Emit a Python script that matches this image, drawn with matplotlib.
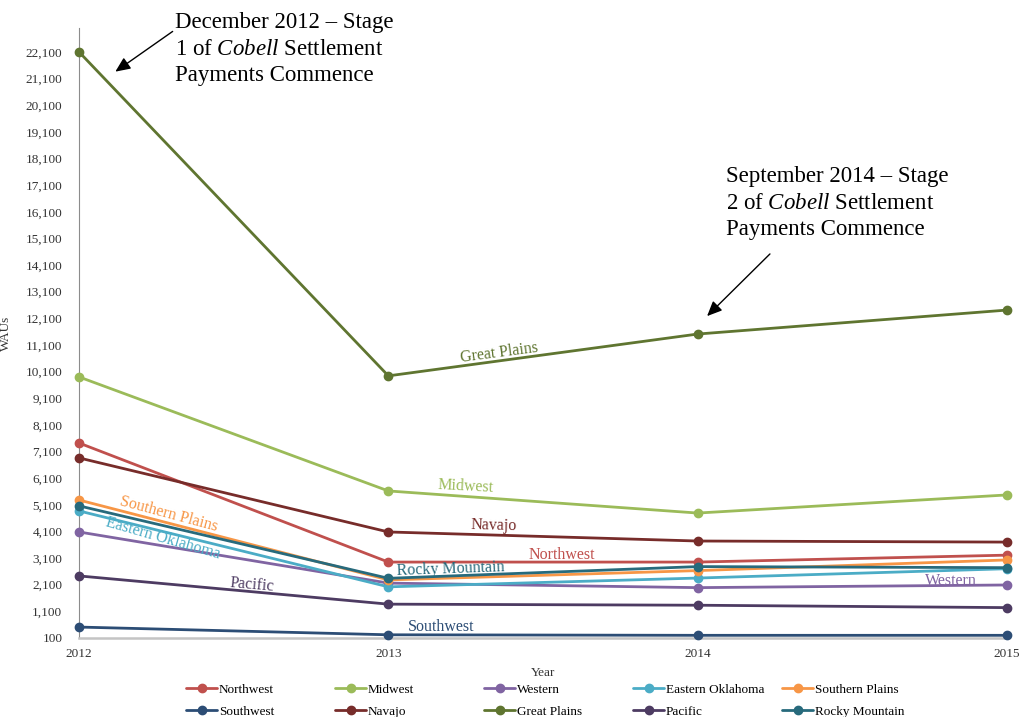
import matplotlib.pyplot as plt
from matplotlib.ticker import FuncFormatter

plt.rcParams['font.family'] = ['Liberation Serif', 'DejaVu Serif']
plt.rcParams['mathtext.fontset'] = 'custom'
plt.rcParams['mathtext.rm'] = 'Liberation Serif'
plt.rcParams['mathtext.it'] = 'Liberation Serif:italic'

years = [2012, 2013, 2014, 2015]

northwest = [7420, 2950, 2950, 3210]
midwest = [9900, 5620, 4790, 5470]
western = [4080, 2160, 1990, 2090]
eastern_oklahoma = [4870, 2020, 2350, 2700]
southern_plains = [5280, 2280, 2630, 3030]
southwest = [510, 220, 200, 200]
navajo = [6860, 4080, 3740, 3700]
great_plains = [22100, 9940, 11510, 12410]
pacific = [2430, 1370, 1330, 1240]
rocky_mountain = [5060, 2340, 2780, 2740]

series = [
    ('Northwest', northwest, '#C0504D'),
    ('Midwest', midwest, '#9BBB59'),
    ('Western', western, '#8064A2'),
    ('Eastern Oklahoma', eastern_oklahoma, '#4BACC6'),
    ('Southern Plains', southern_plains, '#F79646'),
    ('Southwest', southwest, '#2C4D75'),
    ('Navajo', navajo, '#772C2A'),
    ('Great Plains', great_plains, '#5F7530'),
    ('Pacific', pacific, '#4D3B62'),
    ('Rocky Mountain', rocky_mountain, '#276A7C'),
]

# inline label: x, y, rotation
inline = {
    'Great Plains': (2013.36, 10790, 7.5),
    'Midwest': (2013.25, 5800, -3),
    'Navajo': (2013.34, 4330, -1.5),
    'Northwest': (2013.56, 3230, 0),
    'Rocky Mountain': (2013.2, 2700, 2),
    'Southwest': (2013.17, 500, 0),
    'Western': (2014.82, 2250, 0),
    'Pacific': (2012.56, 2080, -5),
    'Southern Plains': (2012.29, 4760, -15),
    'Eastern Oklahoma': (2012.27, 3820, -16),
}

fig = plt.figure(figsize=(10.21, 7.17), dpi=100)
ax = fig.add_axes([0.0774, 0.1102, 0.9089, 0.8508])

handles = []
for name, vals, color in series:
    h, = ax.plot(years, vals, color=color, lw=2.0, marker='o', ms=6, label=name,
                 solid_capstyle='round', clip_on=False, zorder=3)
    handles.append(h)
    tx, ty, rot = inline[name]
    ax.text(tx, ty, name, color=color, fontsize=11.5, rotation=rot,
            ha='center', va='center', rotation_mode='anchor')

ax.set_xlim(2012, 2015)
ax.set_ylim(100, 23000)
ax.set_xticks(years)
ax.set_yticks(range(100, 22101, 1000))
ax.yaxis.set_major_formatter(FuncFormatter(lambda v, p: f'{int(v):,}'))
ax.tick_params(length=0, labelsize=9.5, colors='#333333')
ax.tick_params(axis='x', pad=7)
ax.tick_params(axis='y', pad=12)

for s in ['top', 'right']:
    ax.spines[s].set_visible(False)
ax.spines['left'].set_color('#8c8c8c')
ax.spines['bottom'].set_color('#c4c4c4')
ax.spines['bottom'].set_linewidth(1.8)

ax.set_xlabel('Year', fontsize=9.5, labelpad=5, color='#333333')
ax.set_ylabel('WAUs', fontsize=9.5, color='#333333', labelpad=10)

# Cobell settlement callouts
ax.text(2012.31, 23590, 'December 2012 – Stage\n1 of $\\mathit{Cobell}$ Settlement\nPayments Commence',
        fontsize=16.5, va='top', ha='left', linespacing=1.33, clip_on=False)
ax.annotate('', xy=(2012.11, 21300), xytext=(2012.31, 22930),
            arrowprops=dict(arrowstyle='-|>,head_length=0.9,head_width=0.4', color='black', lw=1),
            annotation_clip=False)
ax.text(2014.09, 17800, 'September 2014 – Stage\n2 of $\\mathit{Cobell}$ Settlement\nPayments Commence',
        fontsize=16.5, va='top', ha='left', linespacing=1.33)
ax.annotate('', xy=(2014.024, 12110), xytext=(2014.24, 14590),
            arrowprops=dict(arrowstyle='-|>,head_length=0.9,head_width=0.4', color='black', lw=1))

# legend: five columns of two, filled across rows
for i in range(5):
    leg = fig.legend(handles=[handles[i], handles[i + 5]], loc='upper left',
                     bbox_to_anchor=((186 + 149 * i) / 1021, 0.047), frameon=False,
                     fontsize=9.5, handlelength=2.35, handletextpad=0.15,
                     labelspacing=0.75, borderpad=0, borderaxespad=0)

fig.savefig('out.png', dpi=100)
